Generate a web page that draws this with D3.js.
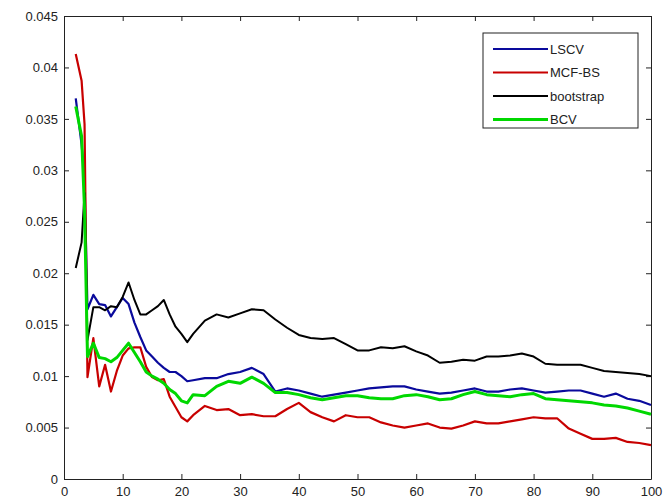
<!DOCTYPE html>
<html>
<head>
<meta charset="utf-8">
<script src="https://cdn.jsdelivr.net/npm/d3@7"></script>
<style>
  body { margin: 0; background: #fff; }
  text { font-family: "Liberation Sans", Arial, sans-serif; }
</style>
</head>
<body>
<svg id="chart" width="665" height="501"></svg>
<script>
// x positions shared by all four curves
const xs = [2, 3, 3.5, 4, 5, 6, 7, 8, 9, 10, 11, 12, 13, 14, 15, 16, 17, 18, 19, 20,
  21, 22, 24, 26, 28, 30, 32, 34, 36, 38, 40, 42, 44, 46, 48, 50, 52, 54, 56, 58,
  60, 62, 64, 66, 68, 70, 72, 74, 76, 78, 80, 82, 84, 86, 88, 90, 92, 94, 96, 98, 100];

const lscv = [0.0370, 0.0325, 0.0290, 0.0165, 0.0179, 0.0170, 0.0169, 0.0158, 0.0167, 0.0176,
  0.0170, 0.0152, 0.0138, 0.0125, 0.0119, 0.0113, 0.0108, 0.0104, 0.0104, 0.0100,
  0.0095, 0.0096, 0.0098, 0.0098, 0.0102, 0.0104, 0.0108, 0.0102, 0.0085, 0.0088,
  0.0086, 0.0083, 0.0080, 0.0082, 0.0084, 0.0086, 0.0088, 0.0089, 0.0090, 0.0090,
  0.0087, 0.0085, 0.0083, 0.0084, 0.0086, 0.0088, 0.0085, 0.0085, 0.0087, 0.0088,
  0.0086, 0.0084, 0.0085, 0.0086, 0.0086, 0.0083, 0.0080, 0.0083, 0.0078, 0.0076, 0.0072];

const mcfbs = [0.0413, 0.0387, 0.0345, 0.0099, 0.0137, 0.0090, 0.0111, 0.0085, 0.0105, 0.0120,
  0.0127, 0.0128, 0.0128, 0.0109, 0.0099, 0.0096, 0.0097, 0.0080, 0.0070, 0.0060,
  0.0056, 0.0062, 0.0071, 0.0067, 0.0068, 0.0062, 0.0063, 0.0061, 0.0061, 0.0068,
  0.0074, 0.0065, 0.0060, 0.0056, 0.0062, 0.0060, 0.0060, 0.0055, 0.0052, 0.0050,
  0.0052, 0.0054, 0.0050, 0.0049, 0.0052, 0.0056, 0.0054, 0.0054, 0.0056, 0.0058,
  0.0060, 0.0059, 0.0059, 0.0049, 0.0044, 0.0039, 0.0039, 0.0040, 0.0036, 0.0035, 0.0033];

const bootstrap = [0.0205, 0.0230, 0.0278, 0.0135, 0.0167, 0.0167, 0.0164, 0.0168, 0.0167, 0.0177,
  0.0191, 0.0174, 0.0160, 0.0160, 0.0164, 0.0168, 0.0174, 0.0160, 0.0148, 0.0141,
  0.0133, 0.0141, 0.0154, 0.0160, 0.0157, 0.0161, 0.0165, 0.0164, 0.0155, 0.0147,
  0.0140, 0.0137, 0.0136, 0.0137, 0.0131, 0.0125, 0.0125, 0.0128, 0.0127, 0.0129,
  0.0124, 0.0120, 0.0113, 0.0114, 0.0116, 0.0115, 0.0119, 0.0119, 0.0120, 0.0122,
  0.0119, 0.0112, 0.0111, 0.0111, 0.0111, 0.0108, 0.0105, 0.0104, 0.0103, 0.0102, 0.0100];

const bcv = [0.0362, 0.0333, 0.0262, 0.0119, 0.0132, 0.0118, 0.0117, 0.0114, 0.0118, 0.0125,
  0.0132, 0.0123, 0.0114, 0.0104, 0.0100, 0.0097, 0.0093, 0.0087, 0.0083, 0.0076,
  0.0074, 0.0082, 0.0081, 0.0090, 0.0095, 0.0093, 0.0099, 0.0093, 0.0084, 0.0084,
  0.0082, 0.0079, 0.0077, 0.0079, 0.0081, 0.0081, 0.0079, 0.0078, 0.0078, 0.0081,
  0.0082, 0.0080, 0.0077, 0.0078, 0.0082, 0.0085, 0.0082, 0.0081, 0.0080, 0.0082,
  0.0083, 0.0078, 0.0077, 0.0076, 0.0075, 0.0074, 0.0072, 0.0071, 0.0069, 0.0066, 0.0063];

const seriesNames = ["LSCV", "MCF-BS", "bootstrap", "BCV"];
const xTicks = [0, 10, 20, 30, 40, 50, 60, 70, 80, 90, 100];
const yTicks = [0, 0.005, 0.01, 0.015, 0.02, 0.025, 0.03, 0.035, 0.04, 0.045];

const series = [
  { name: seriesNames[0], values: lscv, color: "#0a0a9c", width: 2.2 },
  { name: seriesNames[1], values: mcfbs, color: "#c80000", width: 2.2 },
  { name: seriesNames[2], values: bootstrap, color: "#000000", width: 2 },
  { name: seriesNames[3], values: bcv, color: "#00d800", width: 3 },
];

const svg = d3.select("#chart");
const plot = { left: 64, right: 651, top: 16, bottom: 479 };

// scales
const xScale = d3.scaleLinear().domain([0, 100]).range([plot.left, plot.right]);
const yScale = d3.scaleLinear().domain([0, 0.045]).range([plot.bottom, plot.top]);

// axes, ticks pointing inward on all four sides
const axisStyle = g => {
  g.selectAll("path").attr("stroke", "#222");
  g.selectAll("line").attr("stroke", "#222");
  g.selectAll("text").attr("font-size", "13px").attr("fill", "#222");
};

svg.append("g")
  .attr("transform", `translate(0, ${plot.bottom})`)
  .call(d3.axisBottom(xScale).tickValues(xTicks).tickSizeInner(-5).tickSizeOuter(0).tickPadding(8))
  .call(axisStyle);

svg.append("g")
  .attr("transform", `translate(${plot.left}, 0)`)
  .call(d3.axisLeft(yScale).tickValues(yTicks).tickFormat(d => String(d)).tickSizeInner(-5).tickSizeOuter(0).tickPadding(6))
  .call(axisStyle);

svg.append("g")
  .attr("transform", `translate(0, ${plot.top})`)
  .call(d3.axisTop(xScale).tickValues(xTicks).tickFormat("").tickSizeInner(-5).tickSizeOuter(0))
  .call(axisStyle);

svg.append("g")
  .attr("transform", `translate(${plot.right}, 0)`)
  .call(d3.axisRight(yScale).tickValues(yTicks).tickFormat("").tickSizeInner(-5).tickSizeOuter(0))
  .call(axisStyle);

// curves
const line = d3.line()
  .x((d, i) => xScale(xs[i]))
  .y(d => yScale(d));

svg.selectAll(".curve")
  .data(series)
  .join("path")
  .attr("class", "curve")
  .attr("fill", "none")
  .attr("stroke", d => d.color)
  .attr("stroke-width", d => d.width)
  .attr("stroke-linejoin", "round")
  .attr("d", d => line(d.values));

// legend
const legend = svg.append("g").attr("transform", "translate(483, 33)");
legend.append("rect")
  .attr("width", 155)
  .attr("height", 95)
  .attr("fill", "#fff")
  .attr("stroke", "#222");

const entry = legend.selectAll(".entry")
  .data(series)
  .join("g")
  .attr("class", "entry")
  .attr("transform", (d, i) => `translate(0, ${16 + i * 23.5})`);

entry.append("line")
  .attr("x1", 10).attr("x2", 65)
  .attr("stroke", d => d.color)
  .attr("stroke-width", d => d.width);

entry.append("text")
  .attr("x", 67)
  .attr("dy", "0.35em")
  .attr("font-size", "13px")
  .attr("fill", "#222")
  .text(d => d.name);
</script>
</body>
</html>
